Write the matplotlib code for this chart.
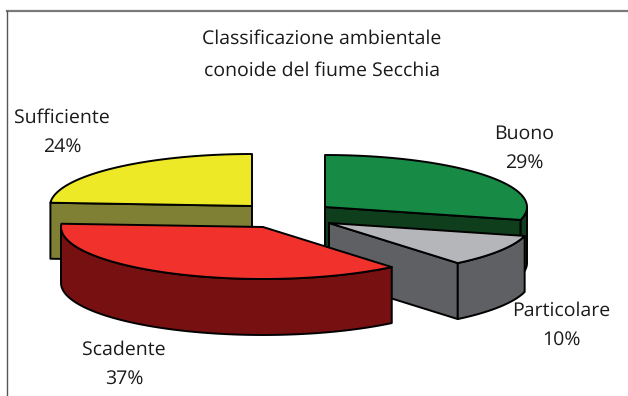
import matplotlib

matplotlib.use("Agg")
import matplotlib.pyplot as plt
import numpy as np
from matplotlib.patches import Polygon

plt.rcParams["font.family"] = ["Open Sans", "DejaVu Sans"]
plt.rcParams["text.hinting"] = "no_hinting"

TITLE = "Classificazione ambientale\nconoide del fiume Secchia"
CATEGORIES = ["Buono", "Particolare", "Scadente", "Sufficiente"]
VALUES = [29, 10, 37, 24]

# top colour, wall colour for each slice
TOP_COLORS = ["#178A45", "#B5B6B9", "#F1312B", "#EEE926"]
WALL_COLORS = ["#0F3E1C", "#5F6064", "#771011", "#808035"]

# slice centres after the explode, in pixels
CENTERS = [(325, 207), (329, 223), (263, 227), (252, 206)]
LABEL_POS = [(524, 148), (561, 325), (124, 364), (62, 132)]
DRAW_ORDER = [3, 0, 1, 2]
RX, RY, DEPTH = 202, 52, 56


def rim(center, start, end, n=60):
    # angles run clockwise from twelve o'clock, in degrees
    a = np.radians(np.linspace(start, end, n))
    return np.column_stack([center[0] + RX * np.sin(a), center[1] - RY * np.cos(a)])


def add_poly(ax, points, color):
    ax.add_patch(Polygon(points, closed=True, facecolor=color, edgecolor="black", linewidth=1.4, joinstyle="round"))


def draw_slice(ax, center, start, end, top_color, wall_color):
    drop = np.array([0, DEPTH])
    mid = np.array(center, dtype=float)

    # flat cut faces that look towards the viewer
    if 180 < start < 360:
        p = rim(center, start, start, 1)[0]
        add_poly(ax, [mid, p, p + drop, mid + drop], wall_color)
    if 90 < end < 180:
        p = rim(center, end, end, 1)[0]
        add_poly(ax, [mid, p, p + drop, mid + drop], wall_color)

    # outer wall, only the front half of the rim shows
    lo, hi = max(start, 90), min(end, 270)
    if lo < hi:
        edge = rim(center, lo, hi)
        add_poly(ax, np.vstack([edge, (edge + drop)[::-1]]), wall_color)

    add_poly(ax, np.vstack([[mid], rim(center, start, end)]), top_color)


fig = plt.figure(figsize=(6.28, 3.96), dpi=100)
ax = fig.add_axes([0, 0, 1, 1])
ax.set_xlim(0, 628)
ax.set_ylim(396, 0)
ax.axis("off")

# chart frame, cut off by the crop on the right and bottom
ax.plot([628, 6.5], [10.5, 10.5], color="#7A7A7A", linewidth=1.6)
ax.plot([6.5, 6.5], [10.5, 396], color="#555555", linewidth=1.0)

bounds = np.cumsum([0] + VALUES) / sum(VALUES) * 360
for i in DRAW_ORDER:
    draw_slice(ax, CENTERS[i], bounds[i], bounds[i + 1], TOP_COLORS[i], WALL_COLORS[i])

ax.text(322, 55, TITLE, ha="center", va="center", fontsize=14, linespacing=1.95, color="#1A1A1A")
for name, value, (x, y) in zip(CATEGORIES, VALUES, LABEL_POS):
    ax.text(x, y, f"{name}\n{value}%", ha="center", va="center", fontsize=14, linespacing=1.7, color="#1A1A1A")

fig.savefig("out.png", dpi=100)
plt.close(fig)
